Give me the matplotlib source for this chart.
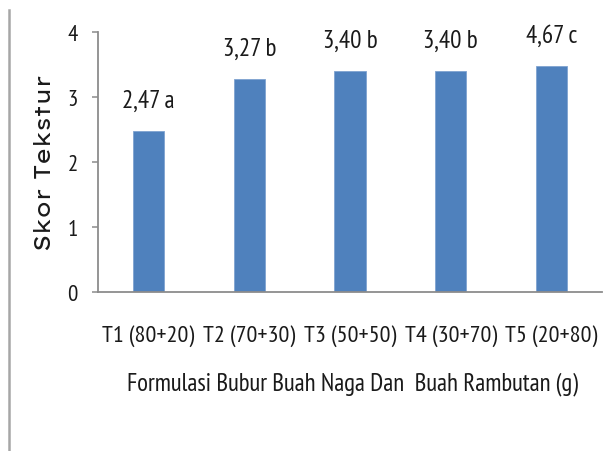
#!/usr/bin/env python3
"""Bar chart of texture scores for bubur formulations."""

import matplotlib
matplotlib.use("Agg")
from matplotlib import pyplot as plt
from matplotlib.lines import Line2D

categories = ["T1 (80+20)", "T2 (70+30)", "T3 (50+50)", "T4 (30+70)", "T5 (20+80)"]
scores = [2.47, 3.27, 3.40, 3.40, 3.47]
bar_labels = ["2,47 a", "3,27 b", "3,40 b", "3,40 b", "4,67 c"]

NARROW = ["PT Sans Narrow", "Roboto Condensed", "Archivo Narrow", "Carlito", "Open Sans", "DejaVu Sans"]
WIDE = ["Lexend Exa", "Lexend", "DejaVu Sans"]
BAR = "#4F81BD"
AXIS = "#8c8c8c"


def main() -> None:
    fig = plt.figure(figsize=(6.13, 4.52), dpi=100)
    ax = fig.add_axes([0.160, 0.352, 0.822, 0.575])

    x = list(range(len(categories)))
    ax.bar(x, scores, width=0.31, color=BAR, edgecolor="#7fa3d0", linewidth=0.6, zorder=2)

    for xi, val, lab in zip(x, scores, bar_labels):
        ax.annotate(lab, (xi, val), xytext=(0, 14), textcoords="offset points",
                    ha="center", va="bottom", fontsize=18, family=NARROW, color="#1a1a1a")

    ax.set_xlim(-0.5, len(categories) - 0.5)
    ax.set_ylim(0, 4)
    ax.set_yticks([0, 1, 2, 3, 4])
    ax.set_yticklabels(["0", "1", "2", "3", "4"], family=NARROW, fontsize=16.5, color="#1a1a1a")
    ax.set_xticks(x)
    ax.set_xticklabels(categories, family=NARROW, fontsize=17.5, color="#1a1a1a")
    ax.tick_params(axis="x", length=0, pad=23)
    ax.tick_params(axis="y", length=4.5, width=1.1, color=AXIS, pad=10)

    for side in ("top", "right"):
        ax.spines[side].set_visible(False)
    for side in ("left", "bottom"):
        ax.spines[side].set_color(AXIS)
        ax.spines[side].set_linewidth(1.3)

    ax.set_ylabel("Skor Tekstur", fontsize=16.5, family=WIDE, color="#1a1a1a", va="center")
    ax.yaxis.set_label_coords(-0.105, 0.5)
    ax.set_xlabel("Formulasi Bubur Buah Naga Dan  Buah Rambutan (g)",
                  family=NARROW, fontsize=17.8, color="#1a1a1a", va="center")
    ax.xaxis.set_label_coords(0.505, -0.35)

    # partial frame line on the left edge
    fig.add_artist(Line2D([0.015, 0.015], [0.0, 0.976], transform=fig.transFigure,
                          color="#a6a6a6", lw=1.8))

    fig.savefig("out.png", dpi=100)


if __name__ == "__main__":
    main()
